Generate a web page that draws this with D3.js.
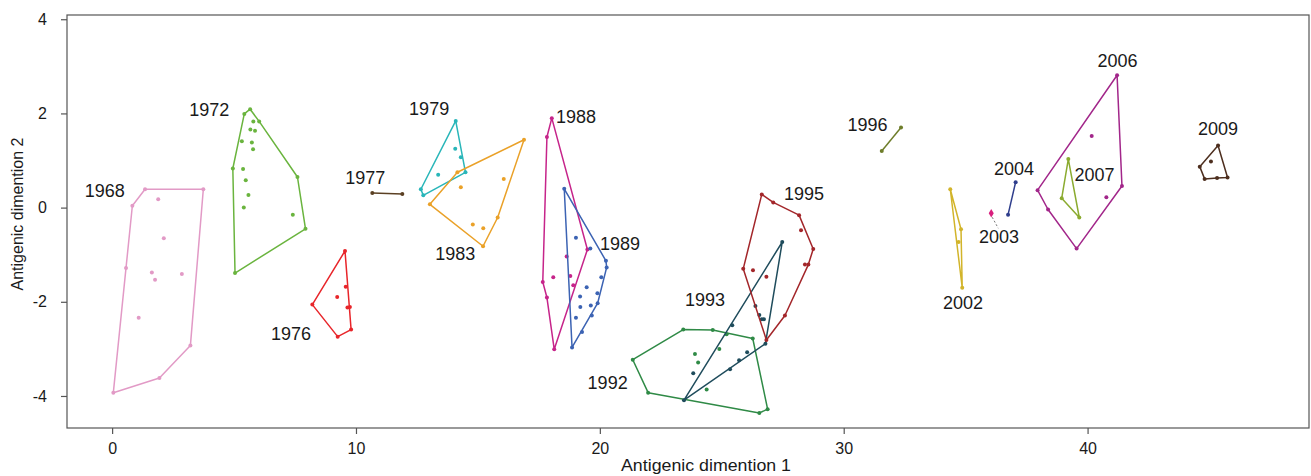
<!DOCTYPE html>
<html>
<head>
<meta charset="utf-8">
<script src="https://cdn.jsdelivr.net/npm/d3@7"></script>
<style>
  body { margin: 0; background: #fff; }
  svg text { font-family: "Liberation Sans", Arial, sans-serif; fill: #1a1a1a; }
</style>
</head>
<body>
<div id="chart-area"></div>
<script>
//1. Data
var years = ["1968", "1972", "1976", "1977", "1979", "1983", "1988", "1989", "1992",
    "1993", "1995", "1996", "2002", "2003", "2004", "2006", "2007", "2009"];

var colors = ["#e29ac6", "#6ab43e", "#e8252a", "#5b4023", "#29b6b9", "#eaa128", "#c6248a", "#3c63b3", "#2f8a46",
    "#1f4c5c", "#a3262a", "#6e7d2a", "#d2b42a", "#d81f7e", "#2e3d8c", "#a2268a", "#8bab30", "#4d2e1e"];

// hull outlines (in drawing order)
var hull_1968 = [[1.35, 0.39], [3.74, 0.39], [3.21, -2.93], [1.94, -3.62], [0.05, -3.93], [0.57, -1.28], [0.83, 0.04]];
var hull_1972 = [[5.66, 2.09], [6.03, 1.83], [7.60, 0.65], [7.93, -0.45], [5.04, -1.39], [4.95, 0.83], [5.42, 1.99]];
var hull_1976 = [[9.55, -0.92], [9.80, -2.59], [9.25, -2.74], [8.21, -2.06]];
var hull_1977 = [[10.67, 0.31], [11.90, 0.29]];
var hull_1979 = [[14.09, 1.84], [14.49, 0.75], [12.76, 0.26], [12.66, 0.39]];
var hull_1983 = [[16.89, 1.44], [15.81, -0.21], [15.21, -0.82], [13.03, 0.07], [14.16, 0.75]];
var hull_1988 = [[18.03, 1.90], [19.49, -0.89], [18.13, -3.01], [17.83, -1.91], [17.66, -1.58], [17.83, 1.50]];
var hull_1989 = [[18.54, 0.40], [20.25, -1.13], [20.28, -1.27], [19.91, -2.03], [18.86, -2.97]];
var hull_1992 = [[23.42, -2.59], [24.63, -2.60], [26.27, -2.78], [26.88, -4.28], [26.54, -4.36], [21.98, -3.93], [21.35, -3.23]];
var hull_1993 = [[27.48, -0.73], [23.45, -4.09], [26.79, -2.89]];
var hull_1995 = [[26.64, 0.28], [27.11, 0.11], [28.17, -0.16], [28.75, -0.88], [28.55, -1.21], [27.59, -2.29], [26.83, -2.81], [25.88, -1.30]];
var hull_1996 = [[32.35, 1.70], [31.56, 1.20]];
var hull_2002 = [[34.37, 0.39], [34.81, -0.46], [34.86, -1.70]];
var hull_2003 = [[36.05, -0.12]];
var hull_2004 = [[37.05, 0.54], [36.74, -0.15]];
var hull_2006 = [[41.21, 2.81], [41.41, 0.46], [39.55, -0.87], [38.38, -0.04], [37.95, 0.37]];
var hull_2007 = [[39.21, 1.03], [39.66, -0.21], [38.94, 0.20]];
var hull_2009 = [[45.35, 1.32], [45.74, 0.64], [45.31, 0.63], [44.80, 0.61], [44.60, 0.87]];

// strains inside the hulls
var inner_1968 = [[1.89, 0.18], [2.12, -0.65], [1.63, -1.38], [1.76, -1.53], [2.86, -1.41], [1.09, -2.34]];
var inner_1972 = [[5.79, 1.83], [5.67, 1.66], [5.86, 1.63], [5.32, 1.41], [5.73, 1.38], [5.78, 1.24],
    [5.37, 0.82], [5.48, 0.58], [5.59, 0.27], [5.40, 0.00], [7.41, -0.15]];
var inner_1976 = [[9.23, -1.90], [9.58, -1.68], [9.65, -2.12], [9.75, -2.11]];
var inner_1977 = [];
var inner_1979 = [[14.07, 1.25], [14.30, 1.07], [13.37, 0.70]];
var inner_1983 = [[16.06, 0.61], [14.30, 0.43], [14.79, -0.36], [15.22, -0.44]];
var inner_1988 = [[18.09, -1.48], [18.64, -1.04], [18.79, -1.45], [18.91, -1.65]];
var inner_1989 = [[19.61, -0.87], [19.02, -0.64], [20.06, -1.48], [19.46, -1.69], [19.90, -1.82], [19.19, -1.89],
    [19.63, -2.08], [19.20, -2.11], [19.67, -2.29], [19.02, -2.34], [19.27, -2.64]];
var inner_1992 = [[23.90, -3.11], [24.90, -3.00], [24.03, -3.29], [24.38, -3.86], [25.20, -2.69]];
var inner_1993 = [[23.83, -3.52], [25.43, -2.50], [25.34, -3.43], [25.71, -3.24], [26.04, -3.07],
    [26.38, -2.09], [26.54, -2.28], [26.64, -2.37], [26.73, -2.37]];
var inner_1995 = [[28.25, -0.48], [28.41, -1.21], [26.28, -1.33], [26.83, -1.47]];
var inner_1996 = [];
var inner_2002 = [[34.71, -0.73]];
var inner_2003 = [];
var inner_2004 = [];
var inner_2006 = [[40.17, 1.52], [40.77, 0.22]];
var inner_2007 = [];
var inner_2009 = [[45.06, 0.98]];

var hulls = [hull_1968, hull_1972, hull_1976, hull_1977, hull_1979, hull_1983, hull_1988, hull_1989, hull_1992,
    hull_1993, hull_1995, hull_1996, hull_2002, hull_2003, hull_2004, hull_2006, hull_2007, hull_2009];
var inners = [inner_1968, inner_1972, inner_1976, inner_1977, inner_1979, inner_1983, inner_1988, inner_1989, inner_1992,
    inner_1993, inner_1995, inner_1996, inner_2002, inner_2003, inner_2004, inner_2006, inner_2007, inner_2009];

// year label positions (data units)
var label_x = [-0.30, 3.98, 7.34, 10.38, 13.0, 14.07, 19.02, 20.83, 20.32,
    24.31, 28.37, 30.98, 34.89, 36.37, 36.98, 41.23, 40.28, 45.35];
var label_y = [0.35, 2.08, -2.67, 0.63, 2.09, -0.97, 1.93, -0.77, -3.72,
    -1.95, 0.29, 1.77, -2.01, -0.62, 0.83, 3.13, 0.69, 1.67];

var x_ticks = [0, 10, 20, 30, 40];
var y_ticks = [-4, -2, 0, 2, 4];

//2. Canvas
var svg_width = 1311, svg_height = 476;
var plot = { left: 67, right: 1309, top: 15, bottom: 428 };

var svg = d3.select("#chart-area").append("svg")
    .attr("width", svg_width)
    .attr("height", svg_height);

//3. Scales
var x_scaling = d3.scaleLinear().domain([-1.85, 49.08]).range([plot.left, plot.right]);
var y_scaling = d3.scaleLinear().domain([-4.68, 4.09]).range([plot.bottom, plot.top]);

//4. Axes (R style: box plus outside ticks)
svg.append("rect")
    .attr("x", plot.left).attr("y", plot.top)
    .attr("width", plot.right - plot.left).attr("height", plot.bottom - plot.top)
    .attr("fill", "none").attr("stroke", "#555").attr("stroke-width", 1.2);

var x_axis = svg.append("g")
    .attr("transform", "translate(0," + plot.bottom + ")")
    .call(d3.axisBottom(x_scaling).tickValues(x_ticks).tickSize(6).tickPadding(6).tickSizeOuter(0));
var y_axis = svg.append("g")
    .attr("transform", "translate(" + plot.left + ",0)")
    .call(d3.axisLeft(y_scaling).tickValues(y_ticks).tickSize(6).tickPadding(14).tickSizeOuter(0)
        .tickFormat(function (d) { return d; }));

[x_axis, y_axis].forEach(function (ax) {
    ax.select(".domain").remove();
    ax.selectAll("line").attr("stroke", "#555").attr("stroke-width", 1.2);
    ax.selectAll("text").attr("font-size", "16px").attr("fill", "#1a1a1a")
        .attr("font-family", "Liberation Sans, Arial, sans-serif");
});
x_axis.selectAll("text").attr("dy", "0.9em");

svg.append("text")
    .attr("x", 706).attr("y", 471)
    .attr("text-anchor", "middle")
    .attr("font-size", "17px")
    .attr("textLength", 170)
    .attr("lengthAdjust", "spacingAndGlyphs")
    .text("Antigenic dimention 1");

svg.append("text")
    .attr("transform", "translate(23,214) rotate(-90)")
    .attr("text-anchor", "middle")
    .attr("font-size", "16px")
    .text("Antigenic dimention 2");

//5. Hulls and strains
var line = d3.line()
    .x(function (d) { return x_scaling(d[0]); })
    .y(function (d) { return y_scaling(d[1]); });

years.forEach(function (yr, i) {
    var g = svg.append("g").attr("class", "year-" + yr);
    var h = hulls[i];
    if (h.length > 1) {
        g.append("path")
            .attr("d", h.length > 2 ? line(h) + "Z" : line(h))
            .attr("fill", "none")
            .attr("stroke", colors[i])
            .attr("stroke-width", 1.5)
            .attr("stroke-linejoin", "round");
    }
    if (h.length == 1) {
        // single strain: drawn as a small diamond
        g.append("path")
            .attr("d", d3.symbol().type(d3.symbolDiamond).size(22)())
            .attr("transform", "translate(" + x_scaling(h[0][0]) + "," + y_scaling(h[0][1]) + ")")
            .attr("fill", colors[i]);
    } else {
        g.selectAll("circle").data(h.concat(inners[i])).enter()
            .append("circle")
            .attr("cx", function (d) { return x_scaling(d[0]); })
            .attr("cy", function (d) { return y_scaling(d[1]); })
            .attr("r", 2)
            .attr("fill", colors[i]);
    }
});

// leader from the 2003 strain to its label
svg.append("line")
    .attr("x1", x_scaling(hull_2003[0][0]) + 1).attr("y1", y_scaling(hull_2003[0][1]) + 4)
    .attr("x2", x_scaling(hull_2003[0][0]) + 7).attr("y2", y_scaling(hull_2003[0][1]) + 15)
    .attr("stroke", "#777").attr("stroke-width", 1).attr("stroke-dasharray", "2,2");

//6. Year labels
svg.selectAll(".year-label").data(years).enter()
    .append("text")
    .attr("class", "year-label")
    .attr("x", function (d, i) { return x_scaling(label_x[i]); })
    .attr("y", function (d, i) { return y_scaling(label_y[i]); })
    .attr("dy", "0.35em")
    .attr("text-anchor", "middle")
    .attr("font-size", "18px")
    .text(function (d) { return d; });
</script>
</body>
</html>
